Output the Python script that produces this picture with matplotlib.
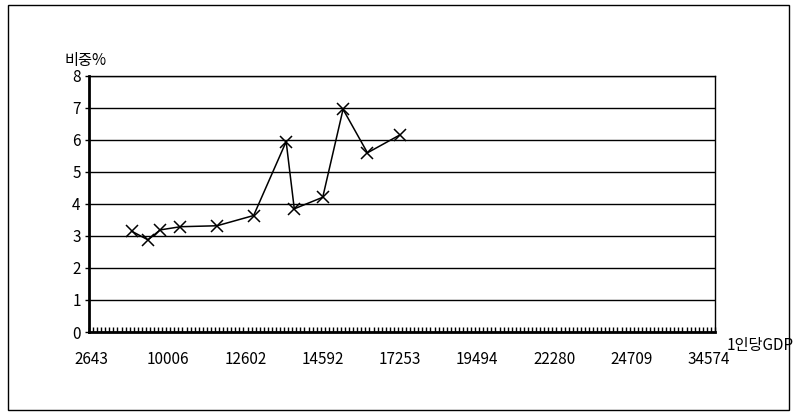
import numpy as np
import matplotlib
matplotlib.use('Agg')
import matplotlib.pyplot as plt
from matplotlib.patches import Rectangle

plt.rcParams['font.family'] = ['Noto Sans CJK KR', 'DejaVu Sans']

# 1인당 GDP 구간 (카테고리 축), 라벨은 19칸마다 하나
n_cat = 154
gdp_labels = ['2643', '10006', '12602', '14592', '17253', '19494', '22280', '24709', '34574']
label_step = 19

# 값이 있는 카테고리 위치와 비중(%)
data_idx = [10, 14, 17, 22, 31, 40, 48, 50, 57, 62, 68, 76]
share = [3.15, 2.88, 3.19, 3.29, 3.32, 3.64, 5.95, 3.85, 4.21, 6.96, 5.60, 6.16]

fig = plt.figure(figsize=(7.97, 4.19), dpi=100)
fig.patches.append(Rectangle((8 / 797, 1 - 410 / 419), 781 / 797, 405 / 419,
                             transform=fig.transFigure, fill=False,
                             edgecolor='black', lw=1))

ax = fig.add_axes([89 / 797, 87 / 419, 626 / 797, 256 / 419])

ax.set_ylim(0, 8)
ax.set_xlim(-0.5, n_cat - 0.5)
ax.set_yticks(range(0, 9))
ax.yaxis.grid(True, color='black', lw=1)
ax.set_axisbelow(True)

ax.plot(data_idx, share, color='black', lw=1.1, marker='x',
        markersize=9, markeredgewidth=1.1, clip_on=False)

# x축: 카테고리 경계마다 눈금, 라벨은 일부만
ax.set_xticks(np.arange(0, n_cat, label_step)[:len(gdp_labels)])
ax.set_xticklabels(gdp_labels)
ax.set_xticks(np.arange(n_cat + 1) - 0.5, minor=True)
ax.tick_params(axis='x', which='major', length=0, pad=14, labelsize=11)
ax.tick_params(axis='x', which='minor', direction='in', length=3.5, width=1)
ax.tick_params(axis='y', which='major', direction='out', length=3, width=1,
               labelsize=11, pad=3)

for side in ['top', 'right']:
    ax.spines[side].set_linewidth(1)
for side in ['left', 'bottom']:
    ax.spines[side].set_linewidth(2)

fig.text(65 / 797, 1 - 61 / 419, '비중%', fontsize=11, va='center', ha='left')
fig.text(727 / 797, 1 - 345 / 419, '1인당GDP', fontsize=11, va='center', ha='left')

fig.savefig('out.png', dpi=100)
